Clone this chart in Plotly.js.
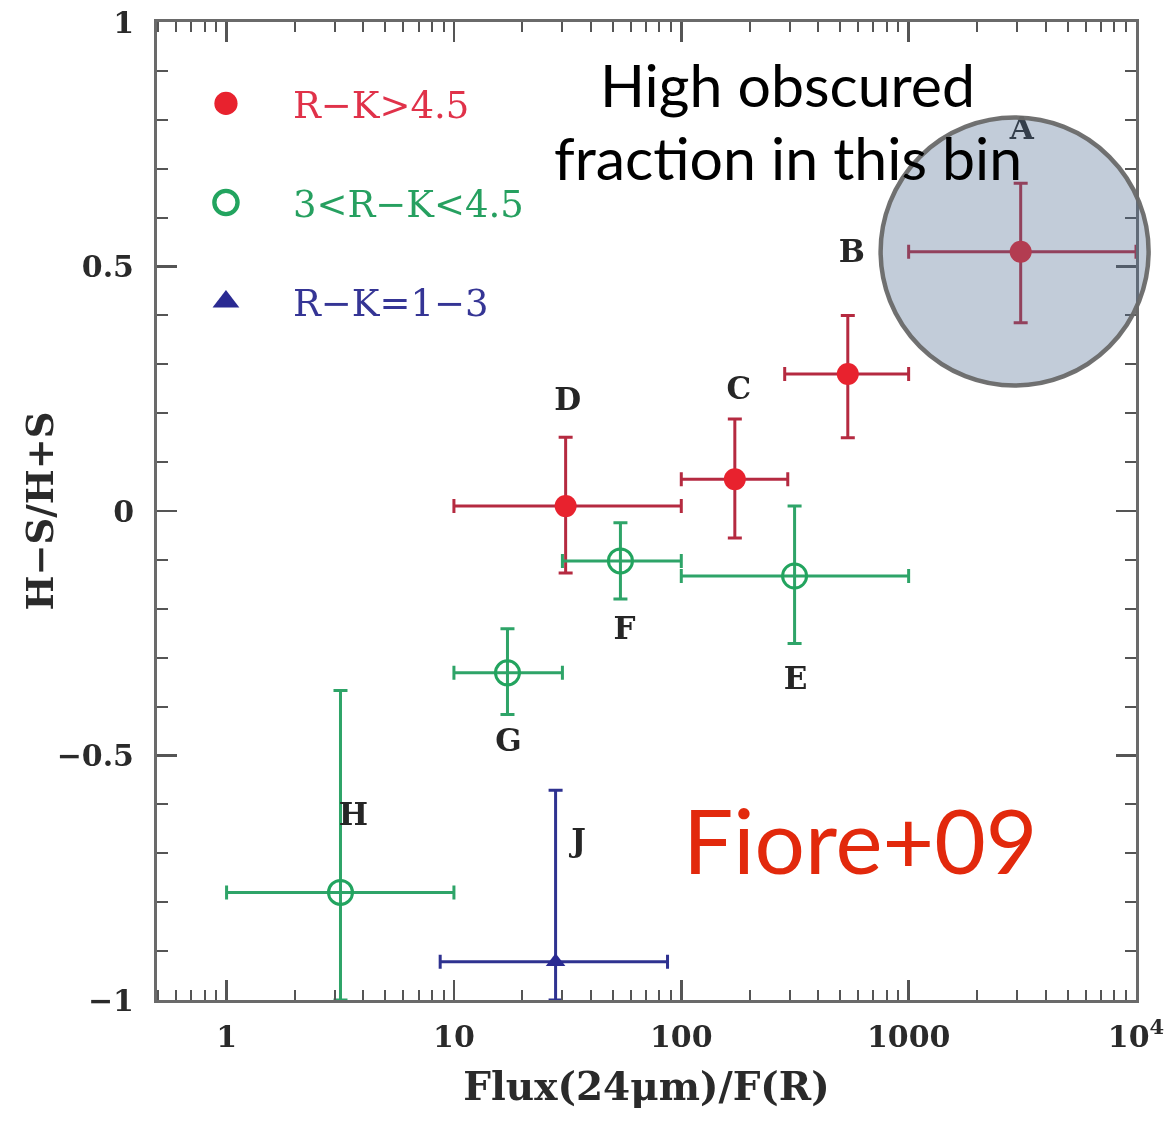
<!DOCTYPE html>
<html>
<head>
<meta charset="utf-8">
<script src="https://cdn.plot.ly/plotly-3.0.1.min.js"></script>
<style>
  html, body { margin: 0; padding: 0; background: #ffffff; }
  #chart { width: 1176px; height: 1125px; }
</style>
</head>
<body>
<div id="chart"></div>
<script>
// Hardness ratio vs 24um-to-optical flux ratio, binned by R-K colour

// R-K > 4.5 (bins A-D)
const redNames = ['A', 'B', 'C', 'D'];
const redX     = [3110, 540, 172, 31];
const redXLo   = [1000, 285, 100, 10];
const redXHi   = [10000, 1000, 294, 100];
const redY     = [0.53, 0.28, 0.065, 0.01];
const redYLo   = [0.385, 0.15, -0.055, -0.127];
const redYHi   = [0.67, 0.40, 0.188, 0.151];

// 3 < R-K < 4.5 (bins E-H)
const greenNames = ['E', 'F', 'G', 'H'];
const greenX     = [315, 54, 17.2, 3.17];
const greenXLo   = [100, 30, 10, 1];
const greenXHi   = [1000, 100, 30, 10];
const greenY     = [-0.133, -0.102, -0.331, -0.78];
const greenYLo   = [-0.271, -0.18, -0.416, -1.0];
const greenYHi   = [0.01, -0.024, -0.241, -0.367];

// R-K = 1-3 (bin J)
const blueNames = ['J'];
const blueX     = [28];
const blueXLo   = [8.7];
const blueXHi   = [87];
const blueY     = [-0.922];
const blueYLo   = [-1.0];
const blueYHi   = [-0.571];

const xTickVals = [1, 10, 100, 1000, 10000];
const xTickText = ['1', '10', '100', '1000', '10<sup>4</sup>'];

// ---- layout constants ----
const W = 1176, H = 1125;
const M = { l: 157, r: 40, t: 22, b: 125 };
const plotW = W - M.l - M.r, plotH = H - M.t - M.b;
const xRangeLog = [-0.306, 4.0];
const yRange = [-1, 1];

// pixel offsets of the bin letters from their points (dx right, dy up)
const labelShift = {
  A: [1, 121], B: [4, 120], C: [4, 88], D: [2, 104],
  E: [1, -105], F: [4, -70], G: [1, -70], H: [13, 75], J: [23, 119]
};

const COL = {
  red: '#e8202e', redBar: '#b52a40',
  green: '#24a45e', greenBar: '#2fa468',
  blue: '#2c2c92', blueBar: '#2e3090'
};

const serif = 'DejaVu Serif, Liberation Serif, serif';

function errs(v, lo, hi) {
  return {
    plus: hi.map((h, i) => h - v[i]),
    minus: lo.map((l, i) => v[i] - l)
  };
}

function series(name, x, xlo, xhi, y, ylo, yhi, marker, barColor, legendText) {
  const ex = errs(x, xlo, xhi), ey = errs(y, ylo, yhi);
  return {
    type: 'scatter', mode: 'markers', x: x, y: y,
    name: legendText, legendgroup: name,
    marker: marker,
    error_x: { type: 'data', symmetric: false, array: ex.plus, arrayminus: ex.minus,
               color: barColor, thickness: 3, width: 7 },
    error_y: { type: 'data', symmetric: false, array: ey.plus, arrayminus: ey.minus,
               color: barColor, thickness: 3, width: 7 },
    hoverinfo: 'skip'
  };
}

// shift a data point by a pixel offset, using the axis scales
function labelPos(x, y, d) {
  const lx = Math.log10(x) + d[0] / plotW * (xRangeLog[1] - xRangeLog[0]);
  const ly = y + d[1] / plotH * (yRange[1] - yRange[0]);
  return [Math.pow(10, lx), ly];
}

const allNames = redNames.concat(greenNames, blueNames);
const allX = redX.concat(greenX, blueX);
const allY = redY.concat(greenY, blueY);
const lbl = allNames.map((n, i) => labelPos(allX[i], allY[i], labelShift[n]));

const traces = [
  series('red', redX, redXLo, redXHi, redY, redYLo, redYHi,
         { symbol: 'circle', size: 22, color: COL.red, line: { width: 0 } },
         COL.redBar, '<span style="color:#e0304a">R−K>4.5</span>'),
  series('green', greenX, greenXLo, greenXHi, greenY, greenYLo, greenYHi,
         { symbol: 'circle-open', size: 24, color: COL.green, line: { width: 3, color: COL.green } },
         COL.greenBar, '<span style="color:#28a060">3<R−K<4.5</span>'),
  series('blue', blueX, blueXLo, blueXHi, blueY, blueYLo, blueYHi,
         { symbol: 'triangle-up', size: 17, color: COL.blue, line: { width: 0 } },
         COL.blueBar, '<span style="color:#353595">R−K=1−3</span>'),
  {
    type: 'scatter', mode: 'text', showlegend: false, hoverinfo: 'skip',
    x: lbl.map(p => p[0]), y: lbl.map(p => p[1]), text: allNames,
    textposition: 'middle center',
    textfont: { family: serif, size: 31, color: '#262626', weight: 'bold' }
  }
];

const axisCommon = {
  showline: true, linecolor: '#6a6a6a', linewidth: 3, mirror: 'allticks',
  ticks: 'inside', tickcolor: '#555', tickwidth: 2.5, ticklen: 20,
  showgrid: false, zeroline: false,
  tickfont: { family: serif, size: 30, color: '#2a2a2a', weight: 'bold' }
};

const layout = {
  width: W, height: H, margin: M,
  paper_bgcolor: '#ffffff', plot_bgcolor: '#ffffff',
  showlegend: true,
  legend: {
    x: 0.002, y: 0.948, xanchor: 'left', yanchor: 'top',
    bgcolor: 'rgba(0,0,0,0)', borderwidth: 0,
    font: { family: serif, size: 37 },
    tracegroupgap: 48, itemwidth: 124, traceorder: 'grouped'
  },
  xaxis: Object.assign({}, axisCommon, {
    type: 'log', range: xRangeLog,
    tickvals: xTickVals, ticktext: xTickText, ticklabelstandoff: 8,
    minor: { ticks: 'inside', ticklen: 10, tickwidth: 2, tickcolor: '#555', dtick: 'D1' },
    title: { text: 'Flux(24μm)/F(R)', standoff: 20,
             font: { family: serif, size: 39, color: '#2a2a2a', weight: 'bold' } }
  }),
  yaxis: Object.assign({}, axisCommon, {
    range: yRange, dtick: 0.5, ticklabelstandoff: 14,
    minor: { ticks: 'inside', ticklen: 11, tickwidth: 2, tickcolor: '#555', dtick: 0.1 },
    title: { text: 'H−S/H+S', standoff: 0,
             font: { family: serif, size: 37, color: '#2a2a2a', weight: 'bold' } }
  }),
  shapes: [{
    type: 'circle', layer: 'above',
    xref: 'paper', yref: 'paper',
    xsizemode: 'pixel', ysizemode: 'pixel',
    xanchor: 0.876, yanchor: 0.7653,
    x0: -134, x1: 134, y0: -134, y1: 134,
    fillcolor: 'rgba(80,110,145,0.35)',
    line: { color: 'rgba(105,105,105,0.95)', width: 4.5 }
  }],
  annotations: [
    { xref: 'paper', yref: 'paper', x: 0.6445, y: 0.9356, xanchor: 'center', yanchor: 'middle',
      text: 'High obscured', showarrow: false,
      font: { family: 'Lato, Open Sans, sans-serif', size: 59, color: '#000' } },
    { xref: 'paper', yref: 'paper', x: 0.6445, y: 0.861, xanchor: 'center', yanchor: 'middle',
      text: 'fraction in this bin', showarrow: false,
      font: { family: 'Lato, Open Sans, sans-serif', size: 59, color: '#000' } },
    { xref: 'paper', yref: 'paper', x: 0.7181, y: 0.1636, xanchor: 'center', yanchor: 'middle',
      text: 'Fiore+09', showarrow: false,
      font: { family: 'Lato, Open Sans, sans-serif', size: 89, color: '#e2290c' } }
  ]
};

Plotly.newPlot('chart', traces, layout, { displayModeBar: false, staticPlot: true }).then(gd => {
  // larger legend symbols than the built-in 16px cap
  gd.querySelectorAll('.legend .legendpoints path.scatterpts').forEach(p => {
    const t = p.getAttribute('transform') || '';
    p.setAttribute('transform', t + ' scale(1.45)');
  });
  // nudge the y title a little closer to the tick labels
  gd.querySelectorAll('.g-ytitle').forEach(g => g.setAttribute('transform', 'translate(8,0)'));
  // soft edges on the printed figure (axes, marks, legend, axis titles)
  const svgNS = 'http://www.w3.org/2000/svg';
  const mainSvg = gd.querySelector('svg.main-svg');
  const defs = document.createElementNS(svgNS, 'defs');
  const filt = document.createElementNS(svgNS, 'filter');
  filt.setAttribute('id', 'softprint');
  filt.setAttribute('x', '-5%'); filt.setAttribute('y', '-5%');
  filt.setAttribute('width', '110%'); filt.setAttribute('height', '110%');
  const blur = document.createElementNS(svgNS, 'feGaussianBlur');
  blur.setAttribute('stdDeviation', '0.7');
  filt.appendChild(blur); defs.appendChild(filt); mainSvg.appendChild(defs);
  ['.cartesianlayer', '.legend', '.g-xtitle', '.g-ytitle'].forEach(sel => {
    gd.querySelectorAll(sel).forEach(g => g.setAttribute('filter', 'url(#softprint)'));
  });
});
</script>
</body>
</html>
